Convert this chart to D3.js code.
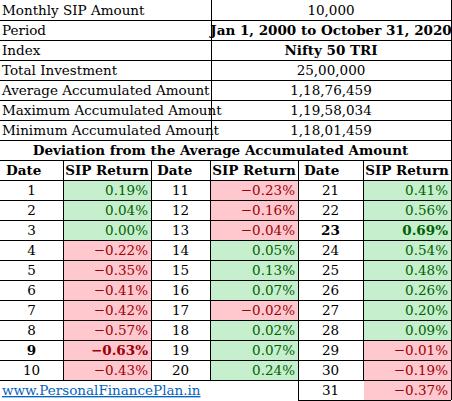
<!DOCTYPE html><html><head><meta charset="utf-8">
<script src="https://cdn.jsdelivr.net/npm/d3@7"></script>
<style>body{margin:0;background:#fff}</style></head><body><svg id="c" width="452" height="401"></svg>
<script>
const infoLabels=["Monthly SIP Amount","Period","Index","Total Investment","Average Accumulated Amount","Maximum  Accumulated Amount","Minimum  Accumulated Amount"];
const infoValues=["10,000","Jan 1, 2000 to October 31, 2020","Nifty 50 TRI","25,00,000","1,18,76,459","1,19,58,034","1,18,01,459"];
const infoBold=[false,true,true,false,false,false,false];
const title="Deviation from the Average Accumulated Amount";
const dates=d3.range(1,32);
const returns=[0.19,0.04,0.00,-0.22,-0.35,-0.41,-0.42,-0.57,-0.63,-0.43,-0.23,-0.16,-0.04,0.05,0.13,0.07,-0.02,0.02,0.07,0.24,0.41,0.56,0.69,0.54,0.48,0.26,0.20,0.09,-0.01,-0.19,-0.37];
const boldDates=[9,23];
const footer="www.PersonalFinancePlan.in";

const svg=d3.select("#c");
const font="'DejaVu Serif', serif";
const y=d3.scaleLinear().domain([0,20]).range([0,400]);
const colX=[0,63,151,210,298,363,451];
const g=svg.append("g").style("font-family",font).style("font-size","13.5px").attr("fill","#000");
const line=(x1,y1,x2,y2)=>g.append("line").attr("x1",x1).attr("y1",y1).attr("x2",x2).attr("y2",y2).attr("stroke","#000").attr("stroke-width",1).attr("shape-rendering","crispEdges");

// top info
infoLabels.forEach((l,i)=>{
  g.append("text").attr("x",2).attr("y",y(i)+15).text(l);
  g.append("text").attr("x",(211+451)/2).attr("y",y(i)+15).attr("text-anchor","middle").attr("font-weight",infoBold[i]?"bold":null).text(infoValues[i]);
});
line(211,0,211,y(7));
// title
g.append("text").attr("x",(0+451)/2-5).attr("y",y(7)+15).attr("text-anchor","middle").attr("font-weight","bold").text(title);
// header
const heads=["Date","SIP Return","Date","SIP Return","Date","SIP Return"];
heads.forEach((h,i)=>{
  const x0=colX[i],x1=colX[i+1];
  g.append("text").attr("x",i%2==0?x0+6:(x0+x1)/2).attr("y",y(8)+15).attr("text-anchor",i%2==0?"start":"middle").attr("font-weight","bold").text(h);
});
// data
dates.forEach((d,k)=>{
  const c=Math.min(2,Math.floor(k/10)), r=k-c*10;
  const top=y(9+r), xd0=colX[2*c], xd1=colX[2*c+1], xr1=colX[2*c+2];
  const v=returns[k], pos=v>=0, b=boldDates.includes(d);
  g.append("rect").attr("x",xd1+1).attr("y",top+1).attr("width",xr1-xd1-1).attr("height",19).attr("fill",pos?"#c6efce":"#ffc7ce");
  g.append("text").attr("x",(xd0+xd1)/2).attr("y",top+15).attr("text-anchor","middle").attr("font-weight",b?"bold":null).text(d);
  g.append("text").attr("x",xr1-3).attr("y",top+15).attr("text-anchor","end").attr("fill",pos?"#006100":"#9c0006").attr("font-weight",b?"bold":null).text(d3.format(".2f")(v)+"%");
});
// footer
g.append("text").attr("x",2).attr("y",y(19)+15).attr("fill","#0563c1").attr("text-decoration","underline").text(footer);

// grid lines
for(let i=1;i<=8;i++) line(0,y(i)+0.5,451,y(i)+0.5);
for(let i=9;i<=19;i++) line(0,y(i)+0.5,451,y(i)+0.5);
line(298,y(20)+0.5,451,y(20)+0.5);
[63,151,210,298,363].forEach(x=>line(x+0.5,y(8),x+0.5,y(19)));
line(298.5,y(19),298.5,y(20));
line(451.5,0,451.5,y(20));
</script></body></html>
